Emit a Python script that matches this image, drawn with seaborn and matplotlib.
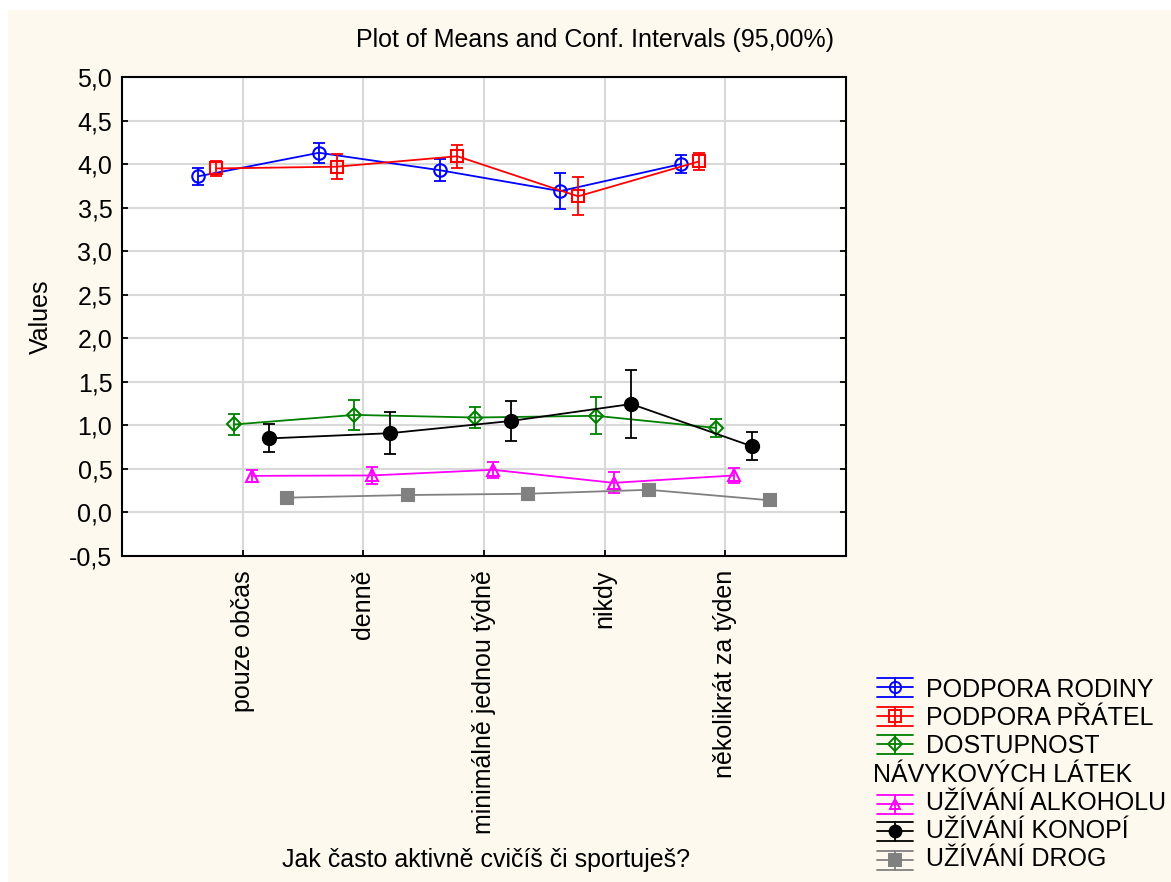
import numpy as np
import matplotlib
matplotlib.use("Agg")
import matplotlib.pyplot as plt
from matplotlib.lines import Line2D
from matplotlib.patches import Rectangle
from matplotlib.ticker import FuncFormatter, MultipleLocator
import seaborn as sns

# kategorie na ose x
categories = ["pouze občas", "denně", "minimálně jednou týdně", "nikdy", "několikrát za týden"]

# prumery a polovina sirky 95% intervalu
rodiny = [3.86, 4.13, 3.93, 3.69, 4.00]
rodiny_ci = [0.10, 0.115, 0.125, 0.21, 0.10]
pratel = [3.95, 3.97, 4.09, 3.63, 4.03]
pratel_ci = [0.09, 0.145, 0.13, 0.22, 0.095]
dostupnost = [1.01, 1.12, 1.09, 1.11, 0.97]
dostupnost_ci = [0.115, 0.17, 0.12, 0.21, 0.105]
alkohol = [0.42, 0.425, 0.49, 0.34, 0.425]
alkohol_ci = [0.07, 0.10, 0.09, 0.12, 0.085]
konopi = [0.85, 0.91, 1.05, 1.245, 0.76]
konopi_ci = [0.16, 0.24, 0.23, 0.395, 0.16]
drogy = [0.17, 0.20, 0.215, 0.26, 0.14]
drogy_ci = [0.04, 0.04, 0.04, 0.07, 0.035]

series_names = ["PODPORA RODINY", "PODPORA PŘÁTEL", "DOSTUPNOST", "UŽÍVÁNÍ ALKOHOLU",
                "UŽÍVÁNÍ KONOPÍ", "UŽÍVÁNÍ DROG"]

sns.set_style("white")
plt.rcParams['font.family'] = ['Liberation Sans', 'DejaVu Sans']
plt.rcParams['text.color'] = 'black'
plt.rcParams['axes.labelcolor'] = 'black'
FS = 18

W, H = 1171, 882
fig = plt.figure(figsize=(W / 100, H / 100), dpi=100)
fig.patch.set_facecolor("white")
fig.add_artist(Rectangle((8 / W, 0), 1, 1 - 10 / H, transform=fig.transFigure,
                         facecolor="#fdf9ef", edgecolor="none", zorder=-10))

ax = fig.add_axes([122 / W, 1 - 556 / H, (846 - 122) / W, (556 - 77) / H])
ax.set_facecolor("white")

# styl jednotlivych rad
styles = [
    (rodiny, rodiny_ci, "#0000ff", "o", "none", 9),
    (pratel, pratel_ci, "#ff0000", "s", "none", 9),
    (dostupnost, dostupnost_ci, "#008000", "D", "none", 7.5),
    (alkohol, alkohol_ci, "#ff00ff", "^", "none", 8.5),
    (konopi, konopi_ci, "#000000", "o", "#000000", 9.5),
    (drogy, drogy_ci, "#808080", "s", "#808080", 9),
]

xbase = np.arange(1, len(categories) + 1)
for i, (vals, ci, c, m, fc, ms) in enumerate(styles):
    xpos = xbase + (i - 2.5) * 0.147
    sns.lineplot(x=xpos, y=vals, ax=ax, color=c, marker=m, markersize=ms,
                 markerfacecolor=fc, markeredgecolor=c, markeredgewidth=1.5,
                 lw=1.3, legend=False, zorder=3)
    ax.errorbar(xpos, vals, yerr=ci, fmt="none", ecolor=c, capsize=4.5,
                elinewidth=1.3, capthick=1.3, zorder=3)

ax.set_xlim(0, 6)
ax.set_ylim(-0.5, 5)
ax.yaxis.set_major_locator(MultipleLocator(0.5))
ax.yaxis.set_major_formatter(FuncFormatter(lambda v, p: f"{v:.1f}".replace(".", ",")))
ax.set_xticks(xbase)
ax.set_xticklabels(categories, rotation=90, va="top", ha="center")
ax.grid(True, color="#d9d9d9", lw=1.5)
ax.set_axisbelow(True)
for s in ax.spines.values():
    s.set_color("black")
    s.set_linewidth(1.5)
ax.tick_params(axis="both", direction="in", length=4, width=1.3, colors="black",
               labelsize=FS, right=True, bottom=True, left=True)
ax.tick_params(axis="x", pad=10)
ax.tick_params(axis="y", pad=7)

ax.set_ylabel("Values", fontsize=FS, labelpad=12)
fig.text(486 / W, 1 - 867 / H, "Jak často aktivně cvičíš či sportuješ?",
         fontsize=FS, ha="center", va="baseline")
fig.text(594.5 / W, 1 - 47 / H, "Plot of Means and Conf. Intervals (95,00%)",
         fontsize=FS, ha="center", va="baseline")

# legenda kreslena rucne (zalomeny text u DOSTUPNOST)
def fx(px):
    return px / W
def fy(py):
    return 1 - py / H

baselines = [697, 725, 753, 810, 838, 866]
handles_y = [687, 716, 744, 804, 831, 860]
for (vals, ci, c, m, fc, ms), name, by, hy in zip(styles, series_names, baselines, handles_y):
    for dy in (-9.5, 0, 9.5):
        fig.add_artist(Line2D([fx(877), fx(913)], [fy(hy + dy), fy(hy + dy)],
                              transform=fig.transFigure, color=c, lw=1.3))
    fig.add_artist(Line2D([fx(895), fx(895)], [fy(hy - 9.5), fy(hy + 9.5)],
                          transform=fig.transFigure, color=c, lw=1.3))
    fig.add_artist(Line2D([fx(895)], [fy(hy)], transform=fig.transFigure,
                          marker=m, markersize=ms * 0.9, markerfacecolor=fc,
                          markeredgecolor=c, markeredgewidth=1.4, lw=0))
    fig.text(fx(926), fy(by), name, fontsize=FS, ha="left", va="baseline")
fig.text(fx(873), fy(782), "NÁVYKOVÝCH LÁTEK", fontsize=FS, ha="left", va="baseline")

fig.savefig("out.png", dpi=100, facecolor=fig.get_facecolor())
